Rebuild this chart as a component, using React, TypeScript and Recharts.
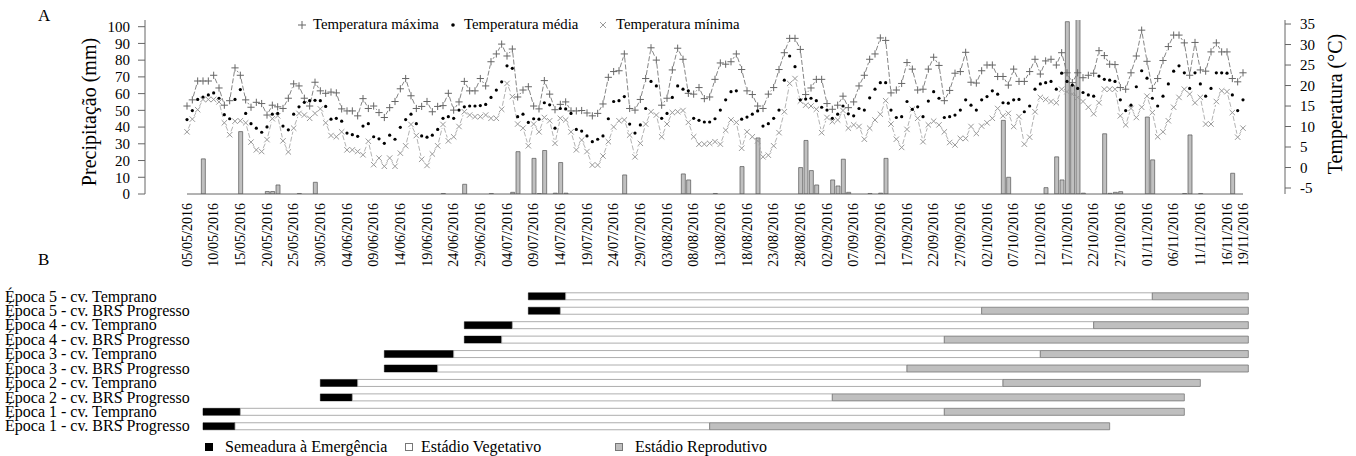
import React from 'react';
import { ComposedChart, BarChart, Bar, Line, XAxis, YAxis, ReferenceLine } from 'recharts';

const FONT = '"Liberation Serif", "Times New Roman", Times, serif';

// ---- dates (day index 0 = 05/05/2016) ----
const dateTicks = [0, 5, 10, 15, 20, 25, 30, 35, 40, 45, 50, 55, 60, 65, 70, 75, 80, 85, 90, 95, 100, 105, 110, 115, 120, 125, 130, 135, 140, 145, 150, 155, 160, 165, 170, 175, 180, 185, 190, 195, 198];
const dateLabels = ['05/05/2016', '10/05/2016', '15/05/2016', '20/05/2016', '25/05/2016', '30/05/2016', '04/06/2016', '09/06/2016', '14/06/2016', '19/06/2016', '24/06/2016', '29/06/2016', '04/07/2016', '09/07/2016', '14/07/2016', '19/07/2016', '24/07/2016', '29/07/2016', '03/08/2016', '08/08/2016', '13/08/2016', '18/08/2016', '23/08/2016', '28/08/2016', '02/09/2016', '07/09/2016', '12/09/2016', '17/09/2016', '22/09/2016', '27/09/2016', '02/10/2016', '07/10/2016', '12/10/2016', '17/10/2016', '22/10/2016', '27/10/2016', '01/11/2016', '06/11/2016', '11/11/2016', '16/11/2016', '19/11/2016'];

const precTicks = [0, 10, 20, 30, 40, 50, 60, 70, 80, 90, 100];
const tempTicks = [-5, 0, 5, 10, 15, 20, 25, 30, 35];

// ---- daily series ----
const tmax = [
  15.0, 16.5, 21.1, 21.1, 21.1, 22.5, 19.4, 15.2, 16.3, 24.3,
  22.5, 16.5, 14.7, 15.9, 15.6, 12.8, 15.2, 14.8, 14.4, 16.9,
  20.4, 19.9, 16.9, 15.0, 20.8, 18.7, 18.1, 18.4, 18.2, 14.3,
  13.8, 13.8, 12.6, 16.8, 14.4, 15.0, 13.4, 12.2, 14.6, 16.1,
  19.2, 21.7, 17.5, 14.4, 14.9, 16.1, 13.6, 14.9, 15.1, 18.1,
  14.0, 16.0, 21.0, 18.7, 18.7, 21.7, 19.9, 25.8, 27.7, 30.1,
  27.2, 28.9, 17.2, 18.9, 19.7, 15.0, 14.3, 21.2, 17.9, 14.1,
  15.4, 16.0, 13.8, 13.8, 13.9, 13.3, 12.6, 13.2, 15.5, 22.0,
  23.4, 23.6, 27.7, 14.4, 14.0, 16.6, 21.7, 29.2, 26.2, 15.2,
  16.9, 23.8, 29.1, 26.4, 18.1, 17.9, 19.5, 16.8, 17.2, 21.5,
  25.5, 25.2, 25.8, 27.7, 23.9, 18.7, 17.8, 15.0, 14.4, 17.9,
  19.5, 23.9, 28.0, 31.5, 31.5, 28.8, 17.8, 19.4, 21.5, 21.5,
  15.6, 14.2, 15.2, 17.4, 14.6, 16.0, 19.9, 22.5, 26.4, 27.7,
  31.6, 31.0, 18.2, 18.9, 20.5, 25.6, 24.0, 18.9, 19.1, 24.0,
  26.9, 24.9, 16.3, 18.8, 23.0, 23.4, 28.1, 20.8, 20.6, 23.6,
  25.0, 25.0, 22.2, 22.2, 20.1, 24.0, 21.0, 21.0, 23.4, 26.4,
  22.8, 26.0, 26.4, 25.0, 28.0, 23.1, 20.7, 23.1, 21.9, 22.5,
  23.0, 28.5, 27.3, 25.2, 25.1, 19.5, 19.1, 23.1, 27.2, 33.5,
  25.9, 19.3, 21.7, 26.1, 29.5, 32.3, 32.3, 30.4, 22.5, 30.5,
  23.8, 23.5, 28.2, 30.4, 28.2, 28.2, 21.7, 20.9, 23.1,
];
const tmed = [
  11.7, 13.9, 16.6, 17.2, 17.7, 18.2, 16.9, 12.9, 11.9, 16.6,
  19.0, 13.2, 10.7, 9.6, 8.6, 9.9, 13.0, 13.2, 10.1, 9.2,
  13.0, 14.8, 15.9, 16.3, 16.4, 16.3, 14.9, 11.8, 12.0, 11.3,
  8.4, 8.0, 7.6, 10.1, 10.7, 7.5, 7.0, 5.9, 7.9, 6.9,
  9.8, 11.7, 13.0, 10.7, 7.7, 7.4, 7.9, 9.3, 12.0, 12.4,
  12.0, 14.0, 14.8, 15.0, 15.0, 15.1, 15.4, 17.1, 18.9, 20.9,
  24.8, 24.2, 12.4, 13.0, 11.0, 11.9, 11.8, 15.8, 15.3, 9.6,
  14.4, 14.3, 13.2, 9.3, 8.9, 7.7, 6.3, 6.9, 7.7, 11.9,
  16.1, 16.3, 17.3, 10.6, 8.4, 10.4, 14.4, 21.0, 19.9, 12.0,
  13.2, 17.1, 19.9, 19.1, 18.7, 12.0, 11.5, 11.1, 11.1, 11.9,
  14.0, 16.5, 18.5, 18.7, 11.8, 12.3, 13.0, 13.8, 10.1, 10.7,
  12.0, 14.0, 21.3, 27.2, 24.6, 16.5, 16.7, 16.9, 16.3, 14.7,
  14.0, 12.0, 13.0, 15.0, 13.1, 12.6, 14.4, 14.0, 17.0, 19.1,
  20.7, 20.7, 14.0, 12.2, 12.4, 16.1, 14.2, 14.8, 12.4, 16.2,
  18.5, 16.9, 12.2, 12.4, 12.8, 14.0, 16.5, 15.2, 14.0, 16.5,
  17.3, 18.7, 17.9, 15.8, 15.7, 16.5, 16.6, 13.6, 15.0, 19.1,
  20.4, 20.7, 21.0, 19.1, 23.0, 21.0, 20.1, 19.3, 18.3, 17.7,
  17.4, 22.3, 21.5, 21.3, 21.0, 16.5, 13.9, 15.2, 19.7, 23.6,
  21.8, 16.9, 15.0, 17.4, 20.4, 23.5, 24.8, 23.1, 19.3, 23.1,
  20.4, 17.4, 19.3, 23.1, 23.1, 23.0, 17.7, 13.9, 16.5,
];
const tmin = [
  8.7, 11.8, 14.1, 16.6, 16.6, 16.6, 16.0, 10.9, 8.0, 11.3,
  11.4, 10.9, 6.2, 4.3, 3.9, 6.8, 11.9, 12.6, 6.5, 3.8,
  9.6, 13.2, 12.8, 12.0, 13.2, 14.3, 10.9, 7.8, 7.5, 8.7,
  4.3, 4.3, 3.9, 3.1, 6.4, 0.7, 2.3, 0.3, 2.3, 0.3,
  3.5, 5.3, 10.5, 7.8, 2.0, 0.5, 3.3, 5.3, 10.5, 6.5,
  7.5, 10.0, 13.6, 12.8, 12.4, 12.4, 12.8, 12.0, 12.0, 14.2,
  20.5, 17.3, 10.6, 9.6, 5.3, 10.6, 8.7, 12.2, 11.4, 5.9,
  12.0, 11.6, 8.7, 4.3, 6.7, 3.9, 0.6, 0.6, 2.8, 6.3,
  9.9, 11.4, 11.6, 7.9, 2.6, 5.9, 10.6, 13.6, 12.8, 7.5,
  10.6, 13.4, 13.6, 13.9, 11.0, 7.5, 5.7, 5.7, 5.9, 6.3,
  5.7, 9.1, 11.6, 11.0, 4.7, 8.7, 7.5, 6.5, 2.6, 3.0,
  5.3, 8.5, 13.6, 20.5, 21.7, 16.2, 15.2, 15.0, 14.2, 8.5,
  12.2, 11.2, 11.6, 13.9, 9.6, 10.4, 10.0, 6.9, 9.6, 11.6,
  13.0, 16.3, 10.6, 6.9, 4.9, 9.3, 14.2, 12.0, 6.3, 10.4,
  11.3, 10.4, 8.7, 6.1, 5.5, 7.1, 7.1, 10.0, 8.3, 10.1,
  10.9, 12.0, 14.4, 12.6, 13.2, 10.0, 12.4, 5.7, 7.4, 13.6,
  17.1, 16.6, 16.1, 15.8, 19.1, 18.5, 17.9, 17.1, 16.1, 14.7,
  13.1, 15.8, 19.1, 19.1, 19.1, 12.6, 10.4, 14.4, 12.2, 14.7,
  17.4, 13.4, 7.5, 8.7, 11.4, 14.7, 17.1, 19.1, 17.9, 15.8,
  17.1, 10.6, 10.6, 16.1, 18.7, 18.5, 13.4, 7.4, 9.6,
];
const prec = [
  0, 0, 0, 21, 0, 0, 0, 0, 0, 0,
  37.3, 0, 0, 0, 0, 1.5, 1.5, 5.4, 0, 0,
  0, 0.3, 0, 0, 7, 0, 0, 0, 0, 0,
  0, 0, 0, 0, 0, 0, 0, 0, 0, 0,
  0, 0, 0, 0, 0, 0, 0, 0, 0.3, 0,
  0, 0, 5.8, 0, 0, 0, 0, 0.3, 0, 0,
  0, 1.0, 25.3, 0, 0, 21.3, 0.3, 26, 0, 0.5,
  18.8, 0.5, 0, 0, 0, 0, 0, 0, 0, 0,
  0, 0, 11.4, 0, 0, 0, 0, 0, 0, 0,
  0, 0, 0, 12, 8.4, 0, 0, 0, 0, 0.3,
  0, 0, 0, 0, 16.4, 0, 0, 33.5, 0, 0,
  0, 0, 0, 0, 0, 15.8, 32, 14, 5.4, 0,
  0, 8.4, 4.8, 20.8, 1.0, 0, 0, 0, 0.3, 0,
  0.5, 21.3, 0, 0, 0, 0, 0, 0, 0, 0,
  0, 0, 0, 0, 0, 0, 0, 0, 0, 0,
  0, 0, 0, 44, 10, 0, 0, 0, 0, 0,
  0, 3.8, 0, 22.2, 8.4, 103, 65, 105, 0.5, 0,
  0, 0, 36, 0.4, 1.0, 1.4, 0, 0, 0, 0,
  46, 20.4, 0, 0, 0, 0, 0, 0.3, 35.3, 0,
  0.3, 0, 0, 0, 0, 0, 12.4, 0, 0,
];

const data = tmax.map((v, i) => ({ day: i, tmax: v, tmed: tmed[i], tmin: tmin[i], prec: prec[i] }));

// ---- crop calendar (B) ----
const ganttLabels = [
  'Época 5 - cv. Temprano',
  'Época 5 - cv. BRS Progresso',
  'Época 4 - cv. Temprano',
  'Época 4 - cv. BRS Progresso',
  'Época 3 - cv. Temprano',
  'Época 3 - cv. BRS Progresso',
  'Época 2 - cv. Temprano',
  'Época 2 - cv. BRS Progresso',
  'Época 1 - cv. Temprano',
  'Época 1 - cv. BRS Progresso',
];
const sowingDay = [64, 64, 52, 52, 37, 37, 25, 25, 3, 3];
const emergenceDay = [71, 70, 61, 59, 50, 47, 32, 31, 10, 9];
const reproStartDay = [181, 149, 170, 142, 160, 135, 153, 121, 142, 98];
const cycleEndDay = [199, 199, 199, 199, 199, 199, 190, 187, 187, 173];

const ganttData = ganttLabels.map((label, i) => ({
  label,
  off: sowingDay[i],
  sem: emergenceDay[i] - sowingDay[i],
  veg: reproStartDay[i] - emergenceDay[i],
  rep: cycleEndDay[i] - reproStartDay[i],
}));

const X_DOMAIN: [number, number] = [-7.875, 205.875];

function makeDot(kind: 'plus' | 'cross' | 'dot', markColor: string, lineColor: string | null, dash?: string) {
  return (props: any) => {
    const { cx, cy, index, points } = props;
    const key = `${kind}-${index}`;
    if (cx == null || cy == null || Number.isNaN(cx) || Number.isNaN(cy)) return <g key={key} />;
    let seg: React.ReactNode = null;
    if (lineColor && Array.isArray(points) && index < points.length - 1) {
      const n = points[index + 1];
      if (n && n.x != null && n.y != null) {
        const dx = n.x - cx;
        const dy = n.y - cy;
        const L = Math.hypot(dx, dy);
        const g = 3.6;
        if (L > 2 * g + 1) {
          const ux = dx / L;
          const uy = dy / L;
          seg = (
            <line x1={cx + ux * g} y1={cy + uy * g} x2={n.x - ux * g} y2={n.y - uy * g}
              stroke={lineColor} strokeWidth={0.9} strokeDasharray={dash} />
          );
        }
      }
    }
    let mark: React.ReactNode;
    if (kind === 'plus') {
      mark = <path d={`M${cx - 3.6},${cy}H${cx + 3.6}M${cx},${cy - 3.6}V${cy + 3.6}`} stroke={markColor} strokeWidth={1} fill="none" />;
    } else if (kind === 'cross') {
      mark = <path d={`M${cx - 2.7},${cy - 2.7}L${cx + 2.7},${cy + 2.7}M${cx - 2.7},${cy + 2.7}L${cx + 2.7},${cy - 2.7}`} stroke={markColor} strokeWidth={1} fill="none" />;
    } else {
      mark = <circle cx={cx} cy={cy} r={1.6} fill={markColor} />;
    }
    return <g key={key}>{seg}{mark}</g>;
  };
}

const DateTick = (props: any) => {
  const { x, payload } = props;
  const idx = dateTicks.indexOf(payload.value);
  const label = idx >= 0 ? dateLabels[idx] : '';
  const y = 203;
  return (
    <text x={x} y={y} transform={`rotate(-90 ${x} ${y})`} textAnchor="end" dominantBaseline="central"
      fontSize={14} fontFamily={FONT} fill="#000">{label}</text>
  );
};

const GanttTick = (props: any) => {
  const { y, payload } = props;
  return (
    <text x={5} y={y} dominantBaseline="central" fontSize={16} fontFamily={FONT} fill="#000">{payload.value}</text>
  );
};

const Marker = ({ kind, color }: { kind: 'plus' | 'cross' | 'dot'; color: string }) => (
  <svg width={12} height={12} style={{ display: 'block' }}>
    {kind === 'plus' && <path d="M2,6H10M6,2V10" stroke={color} strokeWidth={1} />}
    {kind === 'cross' && <path d="M3,3L9,9M3,9L9,3" stroke={color} strokeWidth={1} />}
    {kind === 'dot' && <circle cx={6} cy={6} r={1.8} fill={color} />}
  </svg>
);

const abs = (left: number, top: number, extra: React.CSSProperties = {}): React.CSSProperties => ({
  position: 'absolute', left, top, fontFamily: FONT, color: '#000', whiteSpace: 'nowrap', ...extra,
});

export default function App() {
  const legendTop = [
    { kind: 'plus' as const, color: '#666', text: 'Temperatura máxima', mx: 296, tx: 313 },
    { kind: 'dot' as const, color: '#000', text: 'Temperatura média', mx: 447, tx: 464 },
    { kind: 'cross' as const, color: '#999', text: 'Temperatura mínima', mx: 597, tx: 616 },
  ];
  const legendB = [
    { fill: '#000', stroke: '#000', text: 'Semeadura à Emergência', mx: 205, tx: 225 },
    { fill: '#fff', stroke: '#777', text: 'Estádio Vegetativo', mx: 405, tx: 421 },
    { fill: '#bfbfbf', stroke: '#777', text: 'Estádio Reprodutivo', mx: 615, tx: 635 },
  ];
  return (
    <div style={{ position: 'absolute', left: 0, top: 0, width: 1356, height: 456, background: '#fff', overflow: 'hidden' }}>
      <div style={{ position: 'absolute', left: 0, top: 0 }}>
        <ComposedChart width={1356} height={285} data={data} margin={{ top: 20, right: 11, bottom: 11, left: 85 }}>
          <XAxis xAxisId="d" dataKey="day" type="number" domain={X_DOMAIN} allowDataOverflow ticks={dateTicks}
            interval={0} height={80} axisLine={false} tickLine={false} tick={<DateTick />} />
          <YAxis yAxisId="p" orientation="left" width={60} domain={[0, 104]} allowDataOverflow ticks={precTicks} interval={0}
            tick={{ fontSize: 15, fill: '#000', fontFamily: FONT }} tickSize={7} tickMargin={8}
            tickLine={{ stroke: '#666' }} axisLine={{ stroke: '#666' }}
            label={{
              content: () => (
                <text x={89} y={112} transform="rotate(-90 89 112)" textAnchor="middle" dominantBaseline="central"
                  fontSize={20} fontFamily={FONT} fill="#000">Precipitação (mm)</text>
              ),
            }} />
          <YAxis yAxisId="t" orientation="right" width={60} domain={[-6.46, 35.98]} allowDataOverflow ticks={tempTicks} interval={0}
            tick={{ fontSize: 15, fill: '#000', fontFamily: FONT }} tickSize={6} tickMargin={9}
            tickLine={{ stroke: '#666' }} axisLine={{ stroke: '#666' }}
            label={{
              content: () => (
                <text x={1335} y={104} transform="rotate(-90 1335 104)" textAnchor="middle" dominantBaseline="central"
                  fontSize={20} fontFamily={FONT} fill="#000">Temperatura (°C)</text>
              ),
            }} />
          <ReferenceLine xAxisId="d" yAxisId="p" segment={[{ x: 0, y: 0 }, { x: 198, y: 0 }]} stroke="#666" strokeWidth={1} ifOverflow="visible" />
          <Bar xAxisId="d" yAxisId="p" dataKey="prec" fill="#c0c0c0" stroke="#555" strokeWidth={0.7} barSize={4} isAnimationActive={false} />
          <Line xAxisId="d" yAxisId="t" dataKey="tmin" stroke="none" strokeWidth={0} isAnimationActive={false} activeDot={false}
            dot={makeDot('cross', '#999', '#aaa', '5 2')} />
          <Line xAxisId="d" yAxisId="t" dataKey="tmax" stroke="none" strokeWidth={0} isAnimationActive={false} activeDot={false}
            dot={makeDot('plus', '#666', '#777', '5 2')} />
          <Line xAxisId="d" yAxisId="t" dataKey="tmed" stroke="none" strokeWidth={0} isAnimationActive={false} activeDot={false}
            dot={makeDot('dot', '#000', null)} />
        </ComposedChart>
      </div>

      <div style={{ position: 'absolute', left: 0, top: 280 }}>
        <BarChart width={1356} height={176} data={ganttData} layout="vertical" margin={{ top: 8.8, right: 71, bottom: 22.8, left: 0 }}>
          <XAxis type="number" hide domain={X_DOMAIN} allowDataOverflow />
          <YAxis type="category" dataKey="label" width={145} axisLine={false} tickLine={false} tick={<GanttTick />} interval={0} />
          <Bar dataKey="off" stackId="g" fill="none" stroke="none" barSize={7} isAnimationActive={false} />
          <Bar dataKey="sem" stackId="g" fill="#000" stroke="#000" strokeWidth={0.5} barSize={7} isAnimationActive={false} />
          <Bar dataKey="veg" stackId="g" fill="#fff" stroke="#999" strokeWidth={0.8} barSize={7} isAnimationActive={false} />
          <Bar dataKey="rep" stackId="g" fill="#bfbfbf" stroke="#777" strokeWidth={0.8} barSize={7} isAnimationActive={false} />
        </BarChart>
      </div>

      <div style={abs(38, 6, { fontSize: 17 })}>A</div>
      <div style={abs(38, 250, { fontSize: 17 })}>B</div>

      {legendTop.map((l) => (
        <React.Fragment key={l.text}>
          <div style={abs(l.mx, 19)}><Marker kind={l.kind} color={l.color} /></div>
          <div style={abs(l.tx, 15, { fontSize: 14.8, lineHeight: '19px' })}>{l.text}</div>
        </React.Fragment>
      ))}

      {legendB.map((l) => (
        <React.Fragment key={l.text}>
          <div style={abs(l.mx, 443, { width: 8, height: 8, background: l.fill, border: `1px solid ${l.stroke}`, boxSizing: 'border-box' })} />
          <div style={abs(l.tx, 437, { fontSize: 16, lineHeight: '20px' })}>{l.text}</div>
        </React.Fragment>
      ))}
    </div>
  );
}
